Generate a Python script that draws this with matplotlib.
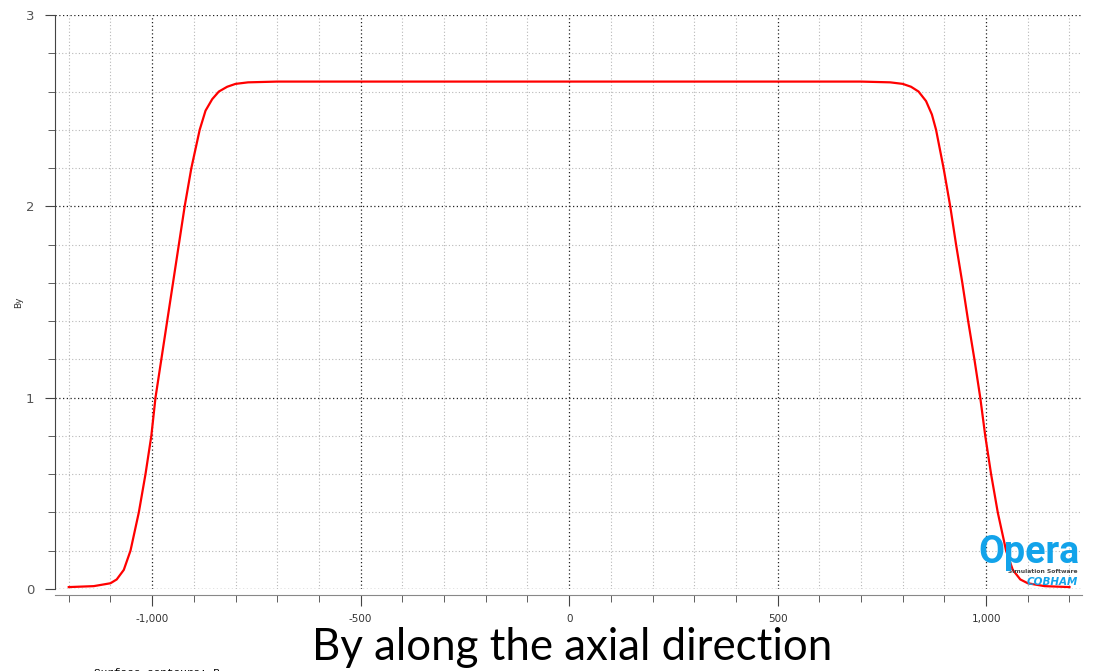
import numpy as np
import matplotlib.pyplot as plt
from matplotlib.ticker import MultipleLocator, FuncFormatter

# axial position (mm) and By (T) along the magnet axis
z = [-1200, -1140, -1100, -1085, -1068, -1052, -1032, -1016, -1002, -992,
     -978, -964, -950, -936, -922, -906, -886, -872, -856, -840,
     -820, -800, -770, -700, 0, 700, 770, 800, 820, 838,
     856, 870, 880, 898, 914, 928, 943, 957, 972, 986,
     998, 1012, 1028, 1048, 1064, 1082, 1100, 1140, 1200]
by = [0.01, 0.015, 0.03, 0.05, 0.1, 0.2, 0.4, 0.6, 0.8, 1.0,
      1.2, 1.4, 1.6, 1.8, 2.0, 2.2, 2.4, 2.5, 2.56, 2.6,
      2.625, 2.64, 2.648, 2.652, 2.652, 2.652, 2.648, 2.64, 2.625, 2.6,
      2.55, 2.48, 2.4, 2.2, 2.0, 1.8, 1.6, 1.4, 1.2, 1.0,
      0.8, 0.6, 0.4, 0.2, 0.1, 0.05, 0.03, 0.015, 0.01]

fig = plt.figure(figsize=(11.02, 6.71), dpi=100)
ax = fig.add_axes([55/1102, 1 - 589/671, 1027/1102, 574/671])

ax.plot(z, by, color='red', lw=1.6, zorder=3)

ax.set_xlim(-1233, 1230)
ax.set_ylim(0, 3)

ax.xaxis.set_major_locator(MultipleLocator(500))
ax.xaxis.set_minor_locator(MultipleLocator(100))
ax.yaxis.set_major_locator(MultipleLocator(1))
ax.yaxis.set_minor_locator(MultipleLocator(0.2))
ax.xaxis.set_major_formatter(FuncFormatter(lambda v, p: f'{int(v):,}'))
ax.yaxis.set_major_formatter(FuncFormatter(lambda v, p: f'{int(v)}'))

ax.grid(which='minor', color='#b8b8b8', ls=(0, (1, 2)), lw=0.8)
ax.grid(which='major', color='#222222', ls=(0, (1, 2)), lw=0.9)

for s in ['top', 'right']:
    ax.spines[s].set_visible(False)
ax.spines['left'].set_color('#444444')
ax.spines['bottom'].set_color('#888888')
ax.spines['bottom'].set_position(('outward', 4))
ax.tick_params(which='major', length=8, color='#444444', labelsize=7.5,
               labelcolor='#333333')
ax.tick_params(which='minor', length=5, color='#444444')
ax.tick_params(axis='y', which='major', length=7, pad=8, labelsize=9.5,
               labelcolor='#555555')
ax.tick_params(axis='x', which='major', pad=6)

ax.set_ylabel('By', fontsize=6.5, color='#333333')
ax.yaxis.set_label_coords(-32/1027, 0.5)

# Opera logo
fig.text(1080/1102, 1 - 563/671, 'Opera', color='#12a3ea', fontsize=27,
         family='Roboto', fontweight='bold',
         ha='right', va='baseline', zorder=5)
fig.text(1078/1102, 1 - 573/671, 'Simulation Software', color='#444444',
         fontsize=4.3, ha='right', va='baseline', fontweight='bold')
fig.text(1078/1102, 1 - 585/671, 'COBHAM', color='#12a3ea', fontsize=7.5,
         fontstyle='italic', fontweight='bold', ha='right', va='baseline')

fig.text(572/1102, 1 - 660/671, 'By along the axial direction',
         fontsize=31.5, family='Lato', ha='center', va='baseline', color='black')
fig.text(94/1102, 1 - 676/671, 'Surface contours: B', fontsize=8,
         family='Liberation Mono', ha='left', va='baseline', color='black')

fig.savefig('out.png', dpi=100)
